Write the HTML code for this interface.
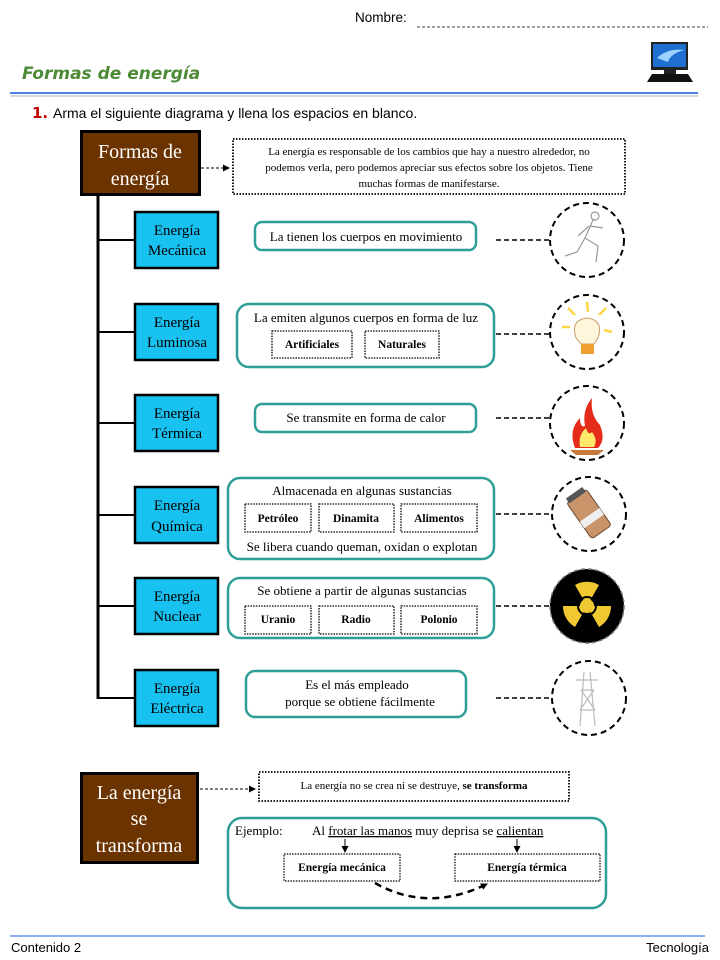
<!DOCTYPE html>
<html><head><meta charset="utf-8"><style>
html,body{margin:0;padding:0;background:#fff;}
svg{display:block;}
.s{font-family:"Liberation Serif",serif;}
.a{font-family:"Liberation Sans",sans-serif;}
</style></head><body>
<svg width="720" height="960" viewBox="0 0 720 960" xmlns="http://www.w3.org/2000/svg">
<defs>
<marker id="ar" markerWidth="7" markerHeight="7" refX="6" refY="3.5" orient="auto" markerUnits="userSpaceOnUse"><path d="M0,0 L7,3.5 L0,7z" fill="#000"/></marker>
</defs>
<!-- header -->
<text x="355" y="22" class="a" font-size="13.5">Nombre:</text>
<line x1="417" y1="27" x2="708" y2="27" stroke="#000" stroke-width="0.8" stroke-dasharray="3,2"/>
<text x="22" y="79" font-family="'DejaVu Sans',sans-serif" font-weight="bold" font-size="17" fill="#4d8a35" font-style="italic">Formas de energía</text>
<!-- computer icon -->
<rect x="651" y="42" width="37" height="28" fill="#222"/>
<rect x="653" y="44" width="33" height="23" fill="#1f6fd0"/>
<path d="M657 58 Q668 48 684 50 Q670 54 668 62z" fill="#9cd0ff"/>
<rect x="664" y="70" width="12" height="4" fill="#222"/>
<path d="M652 74 L688 74 L693 82 L647 82z" fill="#111"/>
<line x1="10" y1="93" x2="698" y2="93" stroke="#4f84e6" stroke-width="2"/>
<line x1="10" y1="96" x2="698" y2="96" stroke="#d8d8d8" stroke-width="2"/>
<text x="32" y="118" font-family="'DejaVu Sans',sans-serif" font-weight="bold" font-size="15" fill="#c00000">1.</text>
<text x="53" y="118" class="a" font-size="14">Arma el siguiente diagrama y llena los espacios en blanco.</text>

<!-- top brown box -->
<rect x="81.5" y="131.5" width="118" height="63" fill="#6b3300" stroke="#000" stroke-width="3"/>
<text x="140" y="158" class="s" font-size="20" fill="#fff" text-anchor="middle">Formas de</text>
<text x="140" y="185" class="s" font-size="20" fill="#fff" text-anchor="middle">energía</text>
<line x1="201" y1="168" x2="229" y2="168" stroke="#000" stroke-dasharray="3,2" marker-end="url(#ar)"/>
<rect x="233" y="139" width="392" height="55" fill="none" stroke="#000" stroke-width="1.8" stroke-dasharray="1.5,1.5"/>
<g class="s" font-size="11" text-anchor="middle">
<text x="429" y="155">La energía es responsable de los cambios que hay a nuestro alrededor, no</text>
<text x="429" y="171">podemos verla, pero podemos apreciar sus efectos sobre los objetos. Tiene</text>
<text x="429" y="187">muchas formas de manifestarse.</text>
</g>

<!-- trunk -->
<line x1="98" y1="195" x2="98" y2="699" stroke="#000" stroke-width="3"/>
<g stroke="#000" stroke-width="2">
<line x1="98" y1="240" x2="135" y2="240"/><line x1="98" y1="332" x2="135" y2="332"/>
<line x1="98" y1="423" x2="135" y2="423"/><line x1="98" y1="515" x2="135" y2="515"/>
<line x1="98" y1="606" x2="135" y2="606"/>
<line x1="97" y1="698" x2="135" y2="698"/>
</g>
<!-- blue boxes -->
<g fill="#17c1f0" stroke="#000" stroke-width="2.5">
<rect x="135" y="212" width="83" height="56"/>
<rect x="135" y="304" width="83" height="56"/>
<rect x="135" y="395" width="83" height="56"/>
<rect x="135" y="487" width="83" height="56"/>
<rect x="135" y="578" width="83" height="56"/>
<rect x="135" y="670" width="83" height="56"/>
</g>
<g class="s" font-size="15" text-anchor="middle" fill="#000">
<text x="177" y="235">Energía</text><text x="177" y="255">Mecánica</text>
<text x="177" y="327">Energía</text><text x="177" y="347">Luminosa</text>
<text x="177" y="418">Energía</text><text x="177" y="438">Térmica</text>
<text x="177" y="510">Energía</text><text x="177" y="531">Química</text>
<text x="177" y="601">Energía</text><text x="177" y="621">Nuclear</text>
<text x="177" y="693">Energía</text><text x="177" y="713">Eléctrica</text>
</g>

<!-- teal boxes -->
<g fill="none" stroke="#2e9e96" stroke-width="2.5">
<rect x="255" y="222" width="221" height="28" rx="7"/>
<rect x="237" y="304" width="257" height="63" rx="12"/>
<rect x="255" y="404" width="221" height="28" rx="7"/>
<rect x="228" y="478" width="266" height="81" rx="12"/>
<rect x="228" y="578" width="266" height="60" rx="12"/>
<rect x="246" y="671" width="220" height="46" rx="9"/>
</g>
<g class="s" font-size="13" text-anchor="middle">
<text x="366" y="241">La tienen los cuerpos en movimiento</text>
<text x="366" y="322">La emiten algunos cuerpos en forma de luz</text>
<text x="366" y="422">Se transmite en forma de calor</text>
<text x="362" y="495">Almacenada en algunas sustancias</text>
<text x="362" y="551">Se libera cuando queman, oxidan o explotan</text>
<text x="362" y="595">Se  obtiene a partir de algunas sustancias</text>
<text x="357" y="689">Es el más empleado</text>
<text x="360" y="706">porque se obtiene  fácilmente</text>
</g>
<!-- inner dotted boxes -->
<g fill="none" stroke="#000" stroke-width="1.3" stroke-dasharray="1.5,1.2">
<rect x="272" y="331" width="80" height="27"/>
<rect x="365" y="331" width="74" height="27"/>
<rect x="245" y="504" width="66" height="28"/>
<rect x="319" y="504" width="75" height="28"/>
<rect x="401" y="504" width="76" height="28"/>
<rect x="245" y="606" width="66" height="28"/>
<rect x="319" y="606" width="75" height="28"/>
<rect x="401" y="606" width="76" height="28"/>
</g>
<g class="s" font-size="11.5" font-weight="bold" text-anchor="middle">
<text x="312" y="348">Artificiales</text><text x="402" y="348">Naturales</text>
<text x="278" y="522">Petróleo</text><text x="356" y="522">Dinamita</text><text x="439" y="522">Alimentos</text>
<text x="278" y="623">Uranio</text><text x="356" y="623">Radio</text><text x="439" y="623">Polonio</text>
</g>

<!-- connectors -->
<g stroke="#000" stroke-width="1.5" stroke-dasharray="5,3">
<line x1="496" y1="240" x2="550" y2="240"/>
<line x1="496" y1="334" x2="550" y2="334"/>
<line x1="496" y1="418" x2="550" y2="418"/>
<line x1="496" y1="514" x2="550" y2="514"/>
<line x1="496" y1="606" x2="550" y2="606"/>
<line x1="496" y1="698" x2="550" y2="698"/>
</g>
<!-- circles -->
<g fill="none" stroke="#000" stroke-width="2" stroke-dasharray="6,4">
<circle cx="587" cy="240" r="37"/>
<circle cx="587" cy="332" r="37"/>
<circle cx="587" cy="423" r="37"/>
<circle cx="589" cy="514" r="37"/>
<circle cx="589" cy="698" r="37"/>
</g>
<!-- runner -->
<g stroke="#999" stroke-width="1.2" fill="none">
<circle cx="595" cy="216" r="4"/>
<path d="M593 220 L585 238 L577 252 L565 256 M585 238 L598 246 L596 262 M590 226 L603 228 M589 226 L578 236"/>
</g>
<!-- bulb -->
<g>
<path d="M576 338 Q570 320 587 318 Q604 320 598 338 L594 344 L581 344z" fill="#fff6dc" stroke="#c9a070"/>
<rect x="581" y="344" width="13" height="10" fill="#f0a030"/>
<g stroke="#ffd84a" stroke-width="2.5"><line x1="587" y1="302" x2="588" y2="312"/><line x1="568" y1="308" x2="575" y2="315"/><line x1="606" y1="308" x2="599" y2="315"/><line x1="562" y1="327" x2="570" y2="327"/><line x1="604" y1="330" x2="612" y2="332"/></g>
</g>
<!-- fire -->
<g>
<path d="M570 450 L604 450 L598 455 L576 455z" fill="#c8783a"/>
<path d="M575 448 Q568 430 580 418 Q580 428 585 426 Q582 410 592 398 Q590 415 600 425 Q606 440 598 448z" fill="#e52b1a"/>
<path d="M580 447 Q578 435 586 428 Q588 436 592 432 Q598 440 594 447z" fill="#ffe86a"/>
</g>
<!-- dynamite -->
<g transform="rotate(-35 589 514)">
<rect x="577" y="492" width="24" height="44" rx="3" fill="#c9946a" stroke="#6b4a32"/>
<rect x="577" y="515" width="24" height="8" fill="#eee"/>
<rect x="579" y="488" width="20" height="6" fill="#555"/>
</g>
<!-- nuclear -->
<circle cx="587" cy="606" r="37" fill="#000"/>
<circle cx="587" cy="606" r="37" fill="none" stroke="#777" stroke-width="1.5" stroke-dasharray="4,3"/>
<g fill="#f0c832">
<circle cx="587" cy="606" r="7"/>
<path d="M587 606 L575 585 A24 24 0 0 1 599 585z"/>
<path d="M587 606 L611 606 A24 24 0 0 1 599 627z"/>
<path d="M587 606 L575 627 A24 24 0 0 1 563 606z"/>
</g>
<circle cx="587" cy="606" r="9" fill="none" stroke="#000" stroke-width="2"/>
<!-- tower -->
<g stroke="#bbb" stroke-width="1.2" fill="none">
<path d="M584 672 L580 726 M590 672 L595 726 M581 690 L594 690 M580 710 L595 710 M581 690 L595 710 M594 690 L580 710 M576 680 L598 680"/>
</g>

<!-- bottom section -->
<rect x="81.5" y="773.5" width="116" height="89" fill="#6b3300" stroke="#000" stroke-width="3"/>
<g class="s" font-size="20" fill="#fff" text-anchor="middle">
<text x="139" y="799">La energía</text><text x="139" y="825">se</text><text x="139" y="852">transforma</text>
</g>
<line x1="200" y1="789" x2="255" y2="789" stroke="#000" stroke-dasharray="3,2" marker-end="url(#ar)"/>
<rect x="259" y="772" width="310" height="29" fill="none" stroke="#000" stroke-width="1.8" stroke-dasharray="1.5,1.5"/>
<text x="414" y="789" class="s" font-size="11" text-anchor="middle">La energía no se crea ni se destruye, <tspan font-weight="bold">se transforma</tspan></text>
<rect x="228" y="818" width="378" height="90" rx="14" fill="none" stroke="#2e9e96" stroke-width="2.5"/>
<text x="235" y="835" class="s" font-size="13">Ejemplo:</text>
<text x="312" y="835" class="s" font-size="13">Al <tspan text-decoration="underline">frotar las manos</tspan> muy deprisa se <tspan text-decoration="underline">calientan</tspan></text>
<line x1="345" y1="839" x2="345" y2="852" stroke="#000" marker-end="url(#ar)"/>
<line x1="517" y1="839" x2="517" y2="852" stroke="#000" marker-end="url(#ar)"/>
<g fill="none" stroke="#000" stroke-width="1.2" stroke-dasharray="1.5,1.2">
<rect x="284" y="854" width="116" height="27"/>
<rect x="455" y="854" width="145" height="27"/>
</g>
<g class="s" font-size="11.5" font-weight="bold" text-anchor="middle">
<text x="342" y="871">Energía mecánica</text><text x="527" y="871">Energía térmica</text>
</g>
<path d="M375 883 Q428 913 487 884" fill="none" stroke="#000" stroke-width="2.5" stroke-dasharray="7,5" marker-end="url(#ar)"/>

<!-- footer -->
<line x1="10" y1="936" x2="705" y2="936" stroke="#1a62e0" stroke-width="1"/>
<text x="11" y="952" class="a" font-size="13">Contenido 2</text>
<text x="709" y="952" class="a" font-size="13" text-anchor="end">Tecnología</text>
</svg>
</body></html>
